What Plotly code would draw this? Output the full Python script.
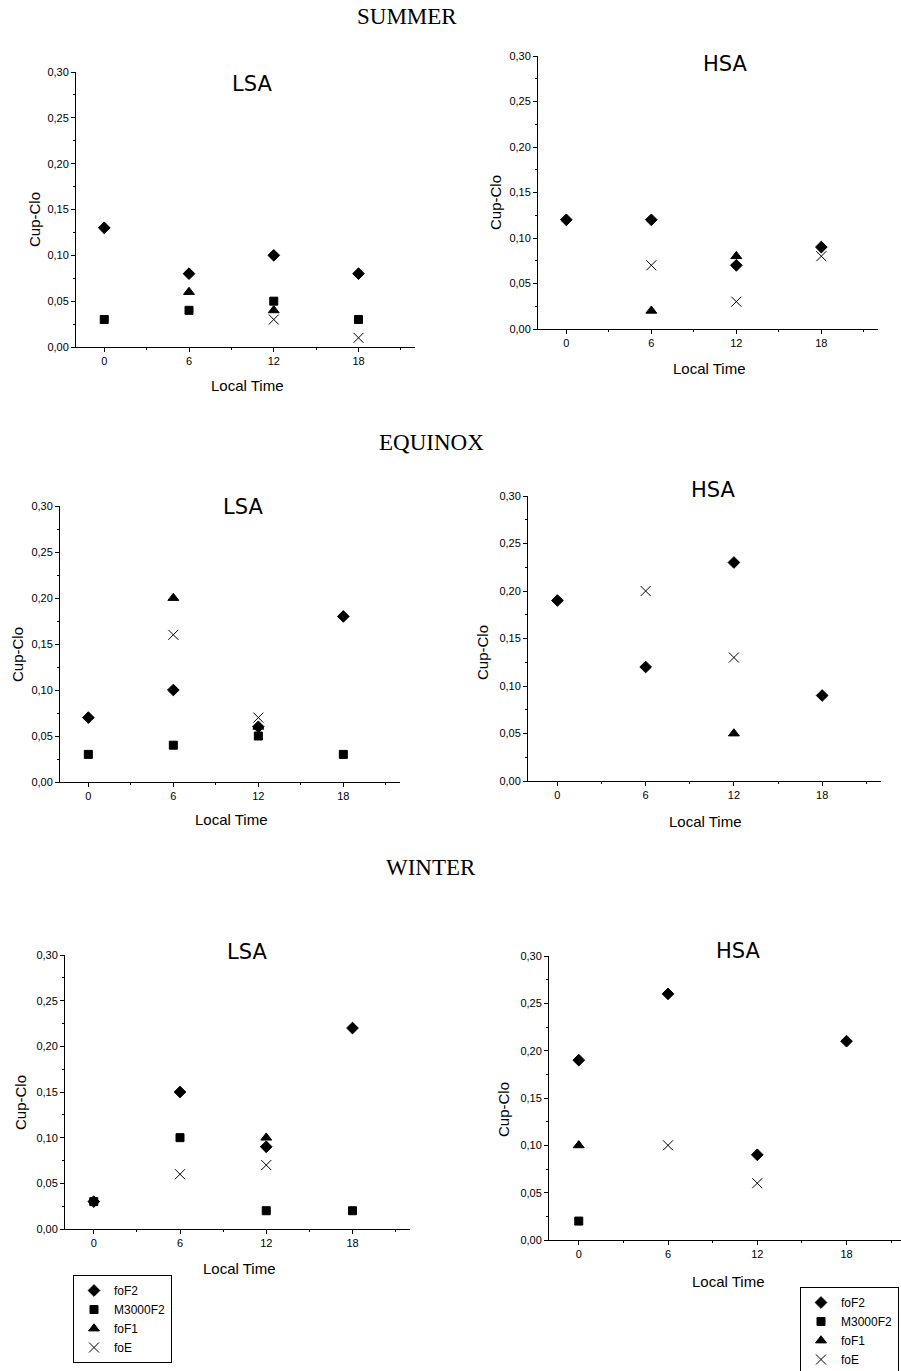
import plotly.graph_objects as go

W, H = 901, 1371

hours = [0, 6, 12, 18]
series_names = ["foF2", "M3000F2", "foF1", "foE"]

# SUMMER
summer_lsa_foF2 = [0.13, 0.08, 0.10, 0.08]
summer_lsa_M3000F2 = [0.03, 0.04, 0.05, 0.03]
summer_lsa_foF1 = [None, 0.06, 0.04, None]
summer_lsa_foE = [None, None, 0.03, 0.01]

summer_hsa_foF2 = [0.12, 0.12, 0.07, 0.09]
summer_hsa_M3000F2 = [None, None, None, None]
summer_hsa_foF1 = [None, 0.02, 0.08, None]
summer_hsa_foE = [None, 0.07, 0.03, 0.08]

# EQUINOX
equinox_lsa_foF2 = [0.07, 0.10, 0.06, 0.18]
equinox_lsa_M3000F2 = [0.03, 0.04, 0.05, 0.03]
equinox_lsa_foF1 = [None, 0.20, 0.06, None]
equinox_lsa_foE = [None, 0.16, 0.07, None]

equinox_hsa_foF2 = [0.19, 0.12, 0.23, 0.09]
equinox_hsa_M3000F2 = [None, None, None, None]
equinox_hsa_foF1 = [None, None, 0.05, None]
equinox_hsa_foE = [None, 0.20, 0.13, None]

# WINTER
winter_lsa_foF2 = [0.03, 0.15, 0.09, 0.22]
winter_lsa_M3000F2 = [0.03, 0.10, 0.02, 0.02]
winter_lsa_foF1 = [None, None, 0.10, None]
winter_lsa_foE = [None, 0.06, 0.07, None]

winter_hsa_foF2 = [0.19, 0.26, 0.09, 0.21]
winter_hsa_M3000F2 = [0.02, None, None, None]
winter_hsa_foF1 = [0.10, None, None, None]
winter_hsa_foE = [None, 0.10, 0.06, None]

section_titles = ["SUMMER", "EQUINOX", "WINTER"]
panel_titles = ["LSA", "HSA", "LSA", "HSA", "LSA", "HSA"]
x_title = "Local Time"
y_title = "Cup-Clo"

panels = [
    [summer_lsa_foF2, summer_lsa_M3000F2, summer_lsa_foF1, summer_lsa_foE],
    [summer_hsa_foF2, summer_hsa_M3000F2, summer_hsa_foF1, summer_hsa_foE],
    [equinox_lsa_foF2, equinox_lsa_M3000F2, equinox_lsa_foF1, equinox_lsa_foE],
    [equinox_hsa_foF2, equinox_hsa_M3000F2, equinox_hsa_foF1, equinox_hsa_foE],
    [winter_lsa_foF2, winter_lsa_M3000F2, winter_lsa_foF1, winter_lsa_foE],
    [winter_hsa_foF2, winter_hsa_M3000F2, winter_hsa_foF1, winter_hsa_foE],
]

# layout (pixel geometry)
# (x_left, x_right, y_top, y_bottom, x_range_max)
geom = [
    (76, 415, 72, 347, 22),
    (538, 878, 56, 329, 22),
    (60, 400, 506, 782, 22),
    (528, 881, 496, 781, 22),
    (65, 410, 955, 1229, 22),
    (549, 901, 956, 1240, 21.66),
]
title_pos = [(252, 84), (725, 64), (243, 507), (713, 490), (247, 952), (738, 951)]
xlab_pos = [(247, 385), (709, 368), (232, 819), (705, 821), (239, 1268), (728, 1281)]
ylab_pos = [(35, 220), (495, 203), (17, 655), (482, 652), (20, 1103), (503, 1110)]
section_pos = [(407, 17), (431, 442), (431, 867)]


def px(x):
    return x / W


def py(y):
    return 1 - y / H


symbols = ["diamond", "square", "triangle-up", "x-thin-open"]
sizes = [9, 8, 9.5, 10]

fig = go.Figure()
axis_font = dict(family="Liberation Sans, Arial", size=11, color="black")

layout = dict(
    width=W, height=H,
    margin=dict(l=0, r=0, t=0, b=0, autoexpand=False),
    paper_bgcolor="white", plot_bgcolor="white",
    separators=",.",
    showlegend=True,
)

for i, data in enumerate(panels):
    xa = "x" if i == 0 else f"x{i+1}"
    ya = "y" if i == 0 else f"y{i+1}"
    legend_id = "legend" if i == 4 else ("legend2" if i == 5 else None)
    for k, name in enumerate(series_names):
        tr = dict(
            x=hours, y=data[k], mode="markers", name=name,
            xaxis=xa, yaxis=ya,
            marker=dict(symbol=symbols[k], size=sizes[k], color="black",
                        line=dict(color="black", width=1)),
            showlegend=legend_id is not None,
            cliponaxis=False,
        )
        if legend_id:
            tr["legend"] = legend_id
        fig.add_trace(go.Scatter(**tr))

    xl, xr, yt, yb, xmax = geom[i]
    xkey = "xaxis" if i == 0 else f"xaxis{i+1}"
    ykey = "yaxis" if i == 0 else f"yaxis{i+1}"
    layout[xkey] = dict(
        domain=[px(xl), px(xr)], range=[-2, xmax], anchor=ya,
        showline=True, linecolor="black", linewidth=1,
        showgrid=False, zeroline=False,
        ticks="outside", ticklen=4, tickcolor="black", tickwidth=1,
        tickmode="linear", tick0=0, dtick=6, tickfont=axis_font,
        minor=dict(ticks="outside", ticklen=2, tick0=0, dtick=3, tickcolor="black"),
        fixedrange=True,
    )
    layout[ykey] = dict(
        domain=[py(yb), py(yt)], range=[0, 0.30], anchor=xa,
        showline=True, linecolor="black", linewidth=1,
        showgrid=False, zeroline=False,
        ticks="outside", ticklen=4, tickcolor="black", tickwidth=1,
        tickmode="linear", tick0=0, dtick=0.05, tickformat=".2f",
        tickfont=axis_font,
        minor=dict(ticks="outside", ticklen=2, tick0=0, dtick=0.025, tickcolor="black"),
        fixedrange=True,
    )

annotations = []
for (x, y), t in zip(section_pos, section_titles):
    annotations.append(dict(x=px(x), y=py(y), xref="paper", yref="paper", text=t,
                            showarrow=False, xanchor="center", yanchor="middle",
                            font=dict(family="Liberation Serif, Times New Roman", size=23, color="black")))
for (x, y), t in zip(title_pos, panel_titles):
    annotations.append(dict(x=px(x), y=py(y), xref="paper", yref="paper", text=t,
                            showarrow=False, xanchor="center", yanchor="middle",
                            font=dict(family="DejaVu Sans", size=21, color="black")))
for (x, y) in xlab_pos:
    annotations.append(dict(x=px(x), y=py(y), xref="paper", yref="paper", text=x_title,
                            showarrow=False, xanchor="center", yanchor="middle",
                            font=dict(family="Liberation Sans, Arial", size=15, color="black")))
for (x, y) in ylab_pos:
    annotations.append(dict(x=px(x), y=py(y), xref="paper", yref="paper", text=y_title,
                            showarrow=False, xanchor="center", yanchor="middle", textangle=-90,
                            font=dict(family="Liberation Sans, Arial", size=15, color="black")))
layout["annotations"] = annotations

legend_font = dict(family="Liberation Sans, Arial", size=12, color="black")
layout["legend"] = dict(x=px(73), y=py(1275), xanchor="left", yanchor="top",
                        bordercolor="black", borderwidth=1, bgcolor="white",
                        font=legend_font, tracegroupgap=0, itemwidth=30)
layout["legend2"] = dict(x=px(800), y=py(1287), xanchor="left", yanchor="top",
                         bordercolor="black", borderwidth=1, bgcolor="white",
                         font=legend_font, tracegroupgap=0, itemwidth=30)

fig.update_layout(**layout)
fig.write_html("out.html")
